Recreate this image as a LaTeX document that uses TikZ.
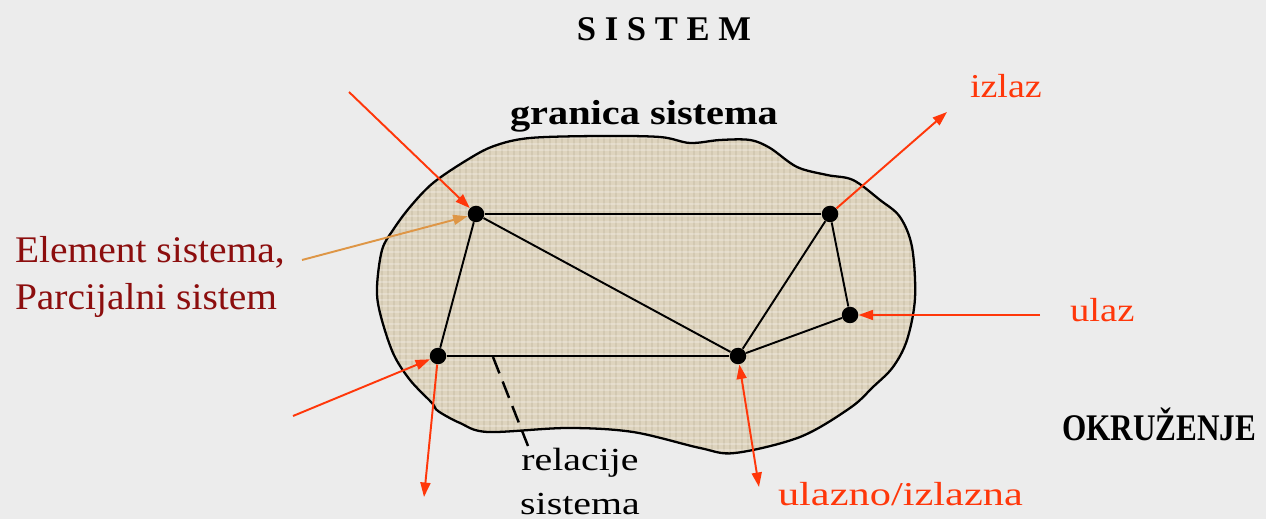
\documentclass[tikz,border=0pt]{standalone}
\usepackage{fontspec}
\usepackage{graphicx}
\setmainfont{Liberation Serif}
\usetikzlibrary{arrows.meta}
\definecolor{bgc}{RGB}{236,236,236}
\definecolor{blobc}{RGB}{222,212,190}
\definecolor{blobdark}{RGB}{190,178,155}
\definecolor{arrred}{RGB}{255,55,10}
\definecolor{darkred}{RGB}{140,14,14}
\definecolor{arrorange}{RGB}{222,150,70}
\tikzset{
  dot/.style={circle,fill=black,inner sep=0pt,minimum size=0.33cm},
  edge/.style={line width=1.1pt,black},
  tipstyle/.style={},
  redarrow/.style={line width=1.1pt,draw=arrred,-{Triangle[length=0.29cm,width=0.2cm]}},
  redboth/.style={line width=1.1pt,draw=arrred,{Triangle[length=0.29cm,width=0.2cm]}-{Triangle[length=0.29cm,width=0.2cm]}},
  orangearrow/.style={line width=1.1pt,draw=arrorange,-{Triangle[length=0.29cm,width=0.2cm]}},
  lbl/.style={inner sep=0pt,outer sep=0pt},
}
\begin{document}
\begin{tikzpicture}[x=0.02cm,y=-0.02cm]
\fill[bgc] (0,0) rectangle (1266,519);
\useasboundingbox (0,0) rectangle (1266,519);
% blob
\def\blobpath{plot[smooth cycle,tension=0.55] coordinates {(494,146) (530,138) (600,136) (660,137) (690,143) (720,140) (750,140) (770,148) (797,167) (827,175) (853,180) (880,200) (900,217) (912,247) (915,298) (907,340) (893,367) (873,387) (850,408) (800,437) (735,453) (700,448) (633,432) (567,428) (488,432) (460,423) (438,411) (432,403) (410,380) (393,353) (380,313) (377,287) (382,250) (393,230) (410,207) (433,183) (467,160)}}
\fill[blobc] \blobpath;
\begin{scope}
\clip \blobpath;
\foreach \i in {370,376,...,920} {\draw[blobdark,opacity=0.35,line width=0.6pt] (\i,130) -- (\i,460);}
\foreach \j in {132,138,...,460} {\draw[white,opacity=0.25,line width=0.6pt] (370,\j) -- (920,\j);}
\end{scope}
\draw[line width=1.3pt,black] \blobpath;
% nodes
\node[dot] (A) at (476,214) {};
\node[dot] (B) at (830,214) {};
\node[dot] (C) at (850,315) {};
\node[dot] (D) at (738,356) {};
\node[dot] (E) at (438,356) {};
% edges
\draw[edge] (A) -- (B);
\draw[edge] (A) -- (E);
\draw[edge] (A) -- (D);
\draw[edge] (B) -- (D);
\draw[edge] (B) -- (C);
\draw[edge] (C) -- (D);
\draw[edge] (E) -- (D);
\coordinate (rs) at (493,357);
\coordinate (re) at (528,446);
\draw[line width=1.4pt,black,dash pattern=on 10pt off 5pt] (rs) -- (re);
% free ends
\coordinate (p1) at (349,92);
\coordinate (p2) at (302,260);
\coordinate (p3) at (947,112);
\coordinate (p4) at (1040,315);
\coordinate (p5) at (293,416);
\coordinate (p6) at (424,497);
\coordinate (p7) at (759,487);
\draw[redarrow] (p1) -- (A);
\draw[orangearrow] (p2) -- (A);
\draw[redarrow] (B) -- (p3);
\draw[redarrow] (p4) -- (C);
\draw[redarrow] (p5) -- (E);
\draw[redarrow] (E) -- (p6);
\draw[redboth] (D) -- (p7);
% labels
\node[lbl,anchor=base] (t1) at (664,41) {\fontsize{19.7pt}{24pt}\selectfont\bfseries S I S T E M};
\node[lbl,anchor=base west] (t2) at (510,125) {\scalebox{1.16}[1]{\fontsize{19.8pt}{24pt}\selectfont\bfseries granica sistema}};
\node[lbl,anchor=base west,text=arrred] (t3) at (970,98) {\scalebox{1.14}[1]{\fontsize{19pt}{23pt}\selectfont izlaz}};
\node[lbl,anchor=base west,text=arrred] (t4) at (1070,322) {\scalebox{1.16}[1]{\fontsize{19pt}{23pt}\selectfont ulaz}};
\node[lbl,anchor=base west,text=arrred] (t5) at (778,505) {\scalebox{1.27}[1]{\fontsize{19pt}{23pt}\selectfont ulazno/izlazna}};
\node[lbl,anchor=base west,text=darkred] (t6) at (15,263) {\scalebox{1.05}[1]{\fontsize{21.4pt}{26pt}\selectfont Element sistema,}};
\node[lbl,anchor=base west,text=darkred] (t7) at (15,310) {\scalebox{1.05}[1]{\fontsize{21.4pt}{26pt}\selectfont Parcijalni sistem}};
\node[lbl,anchor=base west] (t8) at (1062,440) {\scalebox{0.83}[1]{\fontsize{21.4pt}{26pt}\selectfont\bfseries OKRUŽENJE}};
\node[lbl,anchor=base] (t9) at (580,470) {\scalebox{1.24}[1]{\fontsize{18.3pt}{22pt}\selectfont relacije}};
\node[lbl,anchor=base] (t10) at (580,514) {\scalebox{1.24}[1]{\fontsize{18.3pt}{22pt}\selectfont sistema}};
\end{tikzpicture}
\end{document}
